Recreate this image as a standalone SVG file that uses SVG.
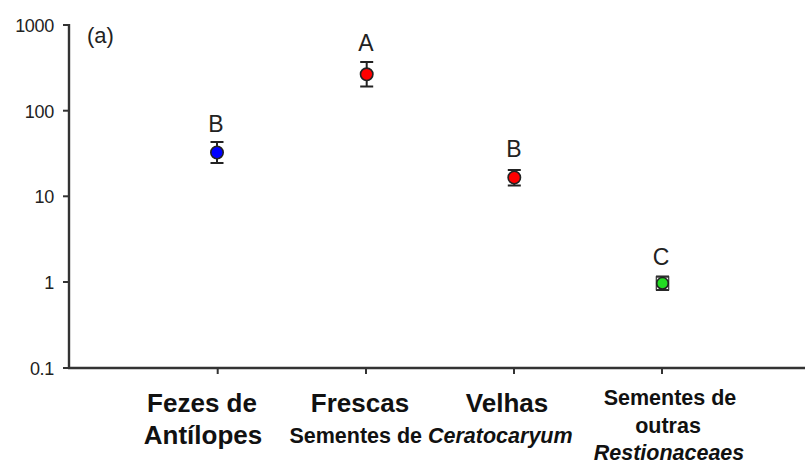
<svg xmlns="http://www.w3.org/2000/svg" width="805" height="467" viewBox="0 0 805 467">
<style>
.axis{stroke:#333;stroke-width:2.4;fill:none}
.tick{stroke:#333;stroke-width:2;fill:none}
.ylab{font-family:"Liberation Sans",Arial,sans-serif;font-size:18px;fill:#222;text-anchor:end;letter-spacing:-0.3px}
.sig{font-family:"Liberation Sans",Arial,sans-serif;font-size:23px;fill:#222;text-anchor:middle}
.err{stroke:#222;stroke-width:2;fill:none}
.dot{stroke:#222;stroke-width:1.6}
.cat{font-family:"Liberation Sans",Arial,sans-serif;font-weight:bold;fill:#111;text-anchor:middle}
.big{font-size:26px}
.small{font-size:21.5px}
</style>
<rect width="805" height="467" fill="#fff"/>
<g id="axes">
<line class="axis" x1="69" y1="24" x2="69" y2="368"/>
<line class="axis" x1="68" y1="368" x2="805" y2="368"/>
<line class="tick" x1="63" y1="25" x2="69" y2="25"/>
<line class="tick" x1="63" y1="110.7" x2="69" y2="110.7"/>
<line class="tick" x1="63" y1="196.3" x2="69" y2="196.3"/>
<line class="tick" x1="63" y1="282" x2="69" y2="282"/>
<line class="tick" x1="63" y1="368" x2="69" y2="368"/>
<line class="tick" x1="217.7" y1="368" x2="217.7" y2="374"/>
<line class="tick" x1="366" y1="368" x2="366" y2="374"/>
<line class="tick" x1="514" y1="368" x2="514" y2="374"/>
<line class="tick" x1="662" y1="368" x2="662" y2="374"/>
<text class="ylab" x="54" y="31.5">1000</text>
<text class="ylab" x="54" y="117.5">100</text>
<text class="ylab" x="54" y="203">10</text>
<text class="ylab" x="54" y="288.5">1</text>
<text class="ylab" x="54" y="374.5">0.1</text>
<text x="87" y="43" style="font-family:'Liberation Sans',Arial,sans-serif;font-size:22px;fill:#222">(a)</text>
</g>
<g id="point-fezes">
<text class="sig" x="216" y="132">B</text>
<path class="err" d="M217 142V163M210.5 142H223.5M210.5 163H223.5"/>
<circle class="dot" cx="217" cy="152.5" r="6.2" fill="#0000ff"/>
</g>
<g id="point-frescas">
<text class="sig" x="366" y="50.5">A</text>
<path class="err" d="M366.7 62V86.5M360.2 62H373.2M360.2 86.5H373.2"/>
<circle class="dot" cx="366.7" cy="74.3" r="6.2" fill="#ff0000"/>
</g>
<g id="point-velhas">
<text class="sig" x="514" y="157">B</text>
<path class="err" d="M514.3 170V185.5M507.8 170H520.8M507.8 185.5H520.8"/>
<circle class="dot" cx="514.3" cy="177.5" r="6.2" fill="#ff0000"/>
</g>
<g id="point-outras">
<text class="sig" x="661" y="265">C</text>
<path class="err" d="M662.5 276.5V290M656 276.5H669M656 290H669"/>
<rect x="656.3" y="276.8" width="12.4" height="13" fill="none" stroke="#333" stroke-width="1.2"/>
<circle class="dot" cx="662.5" cy="283.3" r="5.8" fill="#22dd22"/>
</g>
<g id="labels">
<text class="cat big" x="202" y="412">Fezes de</text>
<text class="cat big" x="203" y="444">Antílopes</text>
<text class="cat big" x="360" y="412">Frescas</text>
<text class="cat big" x="507" y="412">Velhas</text>
<text class="cat small" x="431" y="443">Sementes de <tspan font-style="italic">Ceratocaryum</tspan></text>
<text class="cat small" x="670" y="405">Sementes de</text>
<text class="cat small" x="668" y="433">outras</text>
<text class="cat small" x="669" y="460" font-style="italic">Restionaceaes</text>
</g>
</svg>
